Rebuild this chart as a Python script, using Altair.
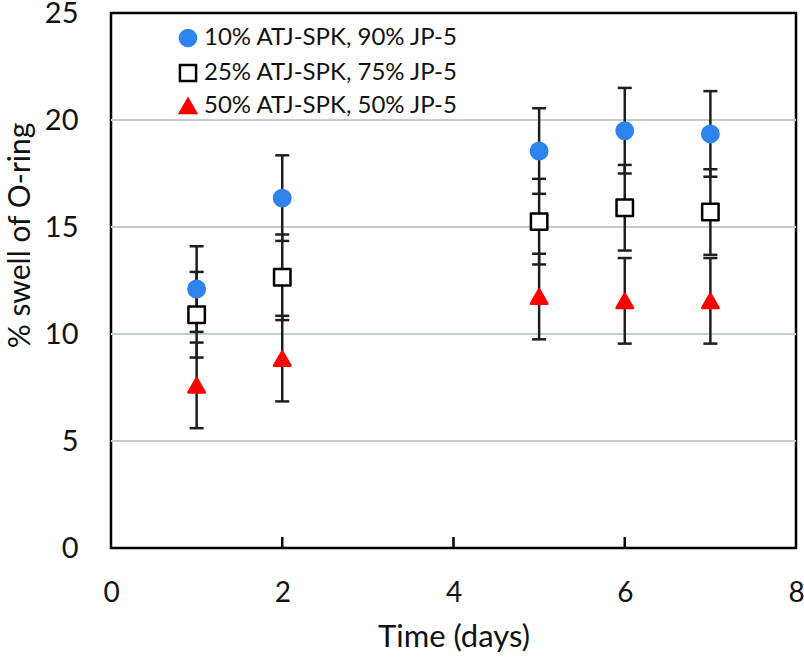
import altair as alt
import pandas as pd

# Immersion time in days
days = [1, 2, 5, 6, 7]

# Blend names
series = [
    "10% ATJ-SPK, 90% JP-5",
    "25% ATJ-SPK, 75% JP-5",
    "50% ATJ-SPK, 50% JP-5",
]

# Mean O-ring swell (%) for each blend
swell_10 = [12.1, 16.35, 18.55, 19.5, 19.35]
swell_25 = [10.9, 12.65, 15.25, 15.9, 15.7]
swell_50 = [7.6, 8.85, 11.75, 11.55, 11.55]

# Error bar half-widths (%)
err_10 = [2.0, 2.0, 2.0, 2.0, 2.0]
err_25 = [2.0, 2.0, 2.0, 2.0, 2.0]
err_50 = [2.0, 2.0, 2.0, 2.0, 2.0]

x_ticks = [0, 2, 4, 6, 8]
x_inner_ticks = [2, 4, 6]
y_ticks = [0, 5, 10, 15, 20, 25]
y_grid = [5, 10, 15, 20]

rows = []
for name, vals, errs in zip(series, [swell_10, swell_25, swell_50], [err_10, err_25, err_50]):
    for d, v, e in zip(days, vals, errs):
        rows.append({"day": d, "swell": v, "lo": v - e, "hi": v + e, "blend": name})
df = pd.DataFrame(rows)

W, H = 685, 535
FONT = "Lato"
INK = "#111111"
BAR = "#1e1e1e"

x_scale = alt.Scale(domain=[0, 8], nice=False)
y_scale = alt.Scale(domain=[0, 25], nice=False)

x_axis = alt.Axis(
    values=x_ticks, grid=False, ticks=False, domain=False, labelFlush=False,
    labelFont=FONT, labelFontSize=28, labelColor=INK,
    labelBaseline="middle", labelPadding=45,
    titleFont=FONT, titleFontSize=31, titleFontWeight="normal",
    titleColor=INK, titleX=W / 2, titleY=89, titleBaseline="middle",
)
y_axis = alt.Axis(
    values=y_ticks, grid=False, ticks=False, domain=False, labelFlush=False,
    labelFont=FONT, labelFontSize=29, labelColor=INK, labelPadding=33,
    titleFont=FONT, titleFontSize=30, titleFontWeight="normal",
    titleColor=INK, titleX=-91, titleY=222, titleBaseline="middle",
    titleAngle=-90,
)
X_TITLE = "Time (days)"
Y_TITLE = "% swell of O-ring"


def xenc(field):
    return alt.X(field, scale=x_scale, title=X_TITLE, axis=x_axis)


def yenc(field):
    return alt.Y(field, scale=y_scale, title=Y_TITLE, axis=y_axis)


grid = alt.Chart(pd.DataFrame({"g": y_grid})).mark_rule(
    color="#c5cec9", strokeWidth=2
).encode(y=yenc("g:Q"))

inner_ticks = alt.Chart(pd.DataFrame({"t": x_inner_ticks})).mark_rule(
    color="black", strokeWidth=2.5
).encode(
    x=xenc("t:Q"),
    y=alt.value(H),
    y2=alt.value(H - 11),
)

stems = alt.Chart(df).mark_rule(color=BAR, strokeWidth=2.5).encode(
    x=xenc("day:Q"),
    y=yenc("lo:Q"),
    y2="hi:Q",
)

cap_lo = alt.Chart(df).mark_tick(
    color=BAR, orient="horizontal", size=14, thickness=2.5, opacity=1
).encode(x=xenc("day:Q"), y=yenc("lo:Q"))

cap_hi = alt.Chart(df).mark_tick(
    color=BAR, orient="horizontal", size=14, thickness=2.5, opacity=1
).encode(x=xenc("day:Q"), y=yenc("hi:Q"))

legend = alt.Legend(
    title=None,
    orient="none",
    legendX=65,
    legendY=13,
    padding=0,
    labelFont=FONT,
    labelFontSize=24,
    labelColor=INK,
    labelLimit=0,
    labelOffset=4,
    rowPadding=7,
    symbolSize=260,
    symbolStrokeWidth=2.5,
)

points = alt.Chart(df).mark_point(
    filled=False, size=270, strokeWidth=2.5, opacity=1, strokeJoin="round"
).encode(
    x=xenc("day:Q"),
    y=yenc("swell:Q"),
    shape=alt.Shape(
        "blend:N",
        scale=alt.Scale(domain=series, range=["circle", "square", "triangle-up"]),
        legend=legend,
    ),
    fill=alt.Fill(
        "blend:N",
        scale=alt.Scale(domain=series, range=["#2F83EE", "white", "#FF0000"]),
        legend=legend,
    ),
    stroke=alt.Stroke(
        "blend:N",
        scale=alt.Scale(domain=series, range=["#2F83EE", "black", "#FF0000"]),
        legend=legend,
    ),
)

chart = alt.layer(grid, inner_ticks, stems, cap_lo, cap_hi, points).properties(
    width=W,
    height=H,
    autosize=alt.AutoSizeParams(type="none"),
    padding={"left": 111, "top": 13, "right": 8, "bottom": 115},
    background="white",
).configure_view(
    stroke="black", strokeWidth=2.5
)

chart.save("out.html", embed_options={"renderer": "svg", "actions": False})
